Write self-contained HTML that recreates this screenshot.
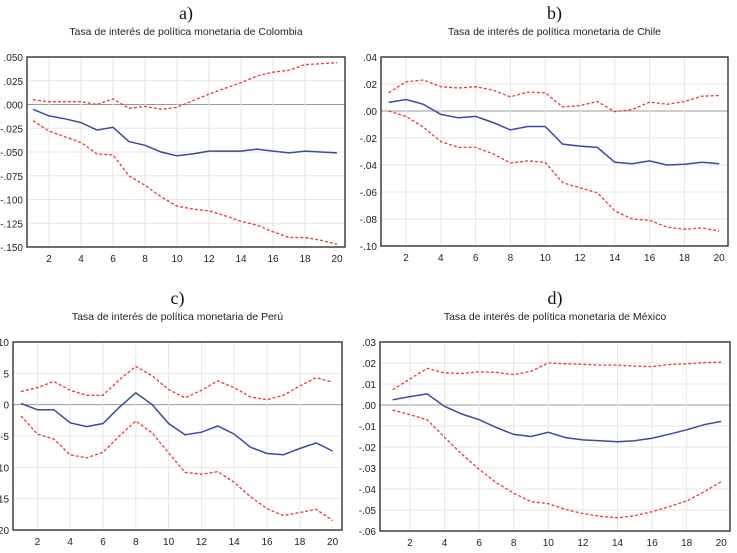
<!DOCTYPE html>
<html><head><meta charset="utf-8"><style>
body{margin:0;width:737px;height:548px;background:#fff;overflow:hidden}
svg{font-family:"Liberation Sans",sans-serif}
</style></head><body>
<svg id="c" width="737" height="548"></svg>
<script>
const periods=[1,2,3,4,5,6,7,8,9,10,11,12,13,14,15,16,17,18,19,20];
const colMid=[-.005,-.012,-.015,-.019,-.027,-.024,-.039,-.043,-.050,-.054,-.052,-.049,-.049,-.049,-.047,-.049,-.051,-.049,-.050,-.051];
const colUp=[.005,.003,.003,.003,.000,.006,-.004,-.002,-.005,-.003,.004,.011,.017,.023,.030,.034,.036,.042,.043,.044];
const colLo=[-.017,-.028,-.034,-.040,-.052,-.053,-.075,-.085,-.097,-.107,-.110,-.112,-.117,-.123,-.127,-.134,-.140,-.140,-.143,-.147];
const colTicks=[".050",".025",".000","-.025","-.050","-.075","-.100","-.125","-.150"];
const chiMid=[.0064,.0085,.005,-.0025,-.005,-.004,-.0085,-.014,-.0115,-.0115,-.0245,-.026,-.027,-.038,-.039,-.037,-.040,-.0395,-.038,-.039];
const chiUp=[.0135,.0216,.023,.018,.017,.018,.0155,.0105,.014,.0135,.003,.004,.007,-.0005,.001,.0066,.005,.007,.011,.0115];
const chiLo=[0,-.004,-.012,-.0226,-.027,-.027,-.0317,-.0385,-.037,-.038,-.053,-.057,-.0606,-.074,-.080,-.081,-.086,-.0876,-.0866,-.089];
const chiTicks=[".04",".02",".00","-.02","-.04","-.06","-.08","-.10"];
const perMid=[.2,-.8,-.8,-2.9,-3.5,-3,-.4,1.9,0,-3,-4.8,-4.4,-3.4,-4.7,-6.8,-7.8,-8,-7,-6.1,-7.4];
const perUp=[2.1,2.7,3.7,2.3,1.5,1.5,4,6.1,4.6,2.4,1.1,2.3,3.8,2.7,1.2,.8,1.5,3,4.3,3.6];
const perLo=[-1.8,-4.7,-5.5,-8,-8.5,-7.6,-5,-2.6,-4.5,-7.7,-10.8,-11.1,-10.7,-12.4,-14.7,-16.6,-17.7,-17.2,-16.7,-18.5];
const perTicks=["10","5","0","-5","-10","-15","-20"];
const mexMid=[.0025,.004,.0053,-.0006,-.0043,-.007,-.0107,-.014,-.015,-.013,-.0155,-.0166,-.017,-.0175,-.017,-.0158,-.0139,-.0118,-.0094,-.0078];
const mexUp=[.0073,.0124,.0175,.0153,.015,.0158,.0155,.0145,.016,.020,.0196,.0194,.019,.019,.0185,.0183,.0193,.0196,.0202,.0204];
const mexLo=[-.0024,-.0046,-.007,-.0154,-.0234,-.0306,-.037,-.042,-.046,-.047,-.0497,-.0517,-.053,-.0537,-.0527,-.0508,-.0484,-.0457,-.0414,-.0365];
const mexTicks=[".03",".02",".01",".00","-.01","-.02","-.03","-.04","-.05","-.06"];

const svg=document.getElementById('c');
const NS='http://www.w3.org/2000/svg';
function mk(tag,attrs,parent){const e=document.createElementNS(NS,tag);for(const k in attrs)e.setAttribute(k,attrs[k]);(parent||svg).appendChild(e);return e;}

function panel(name,letter,title,box,x1px,xStep,yMax,yMin,ticks,mid,up,lo){
  const g=mk('g',{});
  
  
  const cx=(box.l+box.r)/2;
  const lt=mk('text',{x:cx,y:box.t-38,'text-anchor':'middle','font-size':18,'font-family':'Liberation Serif, serif',fill:'#111'},g);
  lt.textContent=letter;
  
  
  const tt=mk('text',{x:cx,y:box.t-22,'text-anchor':'middle','font-size':10.5,fill:'#222'},g);
  tt.textContent=title;
  
  
  const xs=p=>x1px+(p-1)*xStep;
  const ys=v=>box.t+(yMax-v)/(yMax-yMin)*(box.b-box.t);
  const n=ticks.length;
  for(let i=0;i<n;i++){
    const v=yMax-i*(yMax-yMin)/(n-1);const y=ys(v);
    const isZero=Math.abs(v)<1e-9;
    if(i>0&&i<n-1){const gl=mk('line',{x1:box.l,x2:box.r,y1:y,y2:y,stroke:isZero?'#999':'#e6e6e6','stroke-width':1},g);
      }
    const tl=mk('text',{x:box.l-4,y:y+4,'text-anchor':'end','font-size':10,fill:'#222'},g);
    tl.textContent=ticks[i];
    
  }
  periods.forEach(p=>{
    if(p%2===0){const x=xs(p);
      if(p<20){const vl=mk('line',{x1:x,x2:x,y1:box.t,y2:box.b,stroke:'#e6e6e6','stroke-width':1},g);
        }
      const xl=mk('text',{x:x,y:box.b+15,'text-anchor':'middle','font-size':10,fill:'#222'},g);
      xl.textContent=p;
      }
  });
  const fr=mk('rect',{x:box.l,y:box.t,width:box.r-box.l,height:box.b-box.t,fill:'none',stroke:'#222','stroke-width':1.3},g);
  
  const pts=a=>a.map((v,i)=>xs(periods[i]).toFixed(1)+','+ys(v).toFixed(1)).join(' ');
  const u=mk('polyline',{points:pts(up),fill:'none',stroke:'#e23b3b','stroke-width':1.3,'stroke-dasharray':'3,2'},g);
  
  const l=mk('polyline',{points:pts(lo),fill:'none',stroke:'#e23b3b','stroke-width':1.3,'stroke-dasharray':'3,2'},g);
  
  const m=mk('polyline',{points:pts(mid),fill:'none',stroke:'#3b4a9a','stroke-width':1.5},g);
  
}
panel('colombia','a)','Tasa de interés de política monetaria de Colombia',{l:27,r:345,t:57,b:247},33,16,.05,-.15,colTicks,colMid,colUp,colLo);
panel('chile','b)','Tasa de interés de política monetaria de Chile',{l:381,r:728,t:57,b:246},388.6,17.4,.04,-.10,chiTicks,chiMid,chiUp,chiLo);
panel('peru','c)','Tasa de interés de política monetaria de Perú',{l:13,r:342,t:342,b:530},21,16.4,10,-20,perTicks,perMid,perUp,perLo);
panel('mexico','d)','Tasa de interés de política monetaria de México',{l:380,r:730,t:342,b:531},392.6,17.3,.03,-.06,mexTicks,mexMid,mexUp,mexLo);
</script>
</body></html>
